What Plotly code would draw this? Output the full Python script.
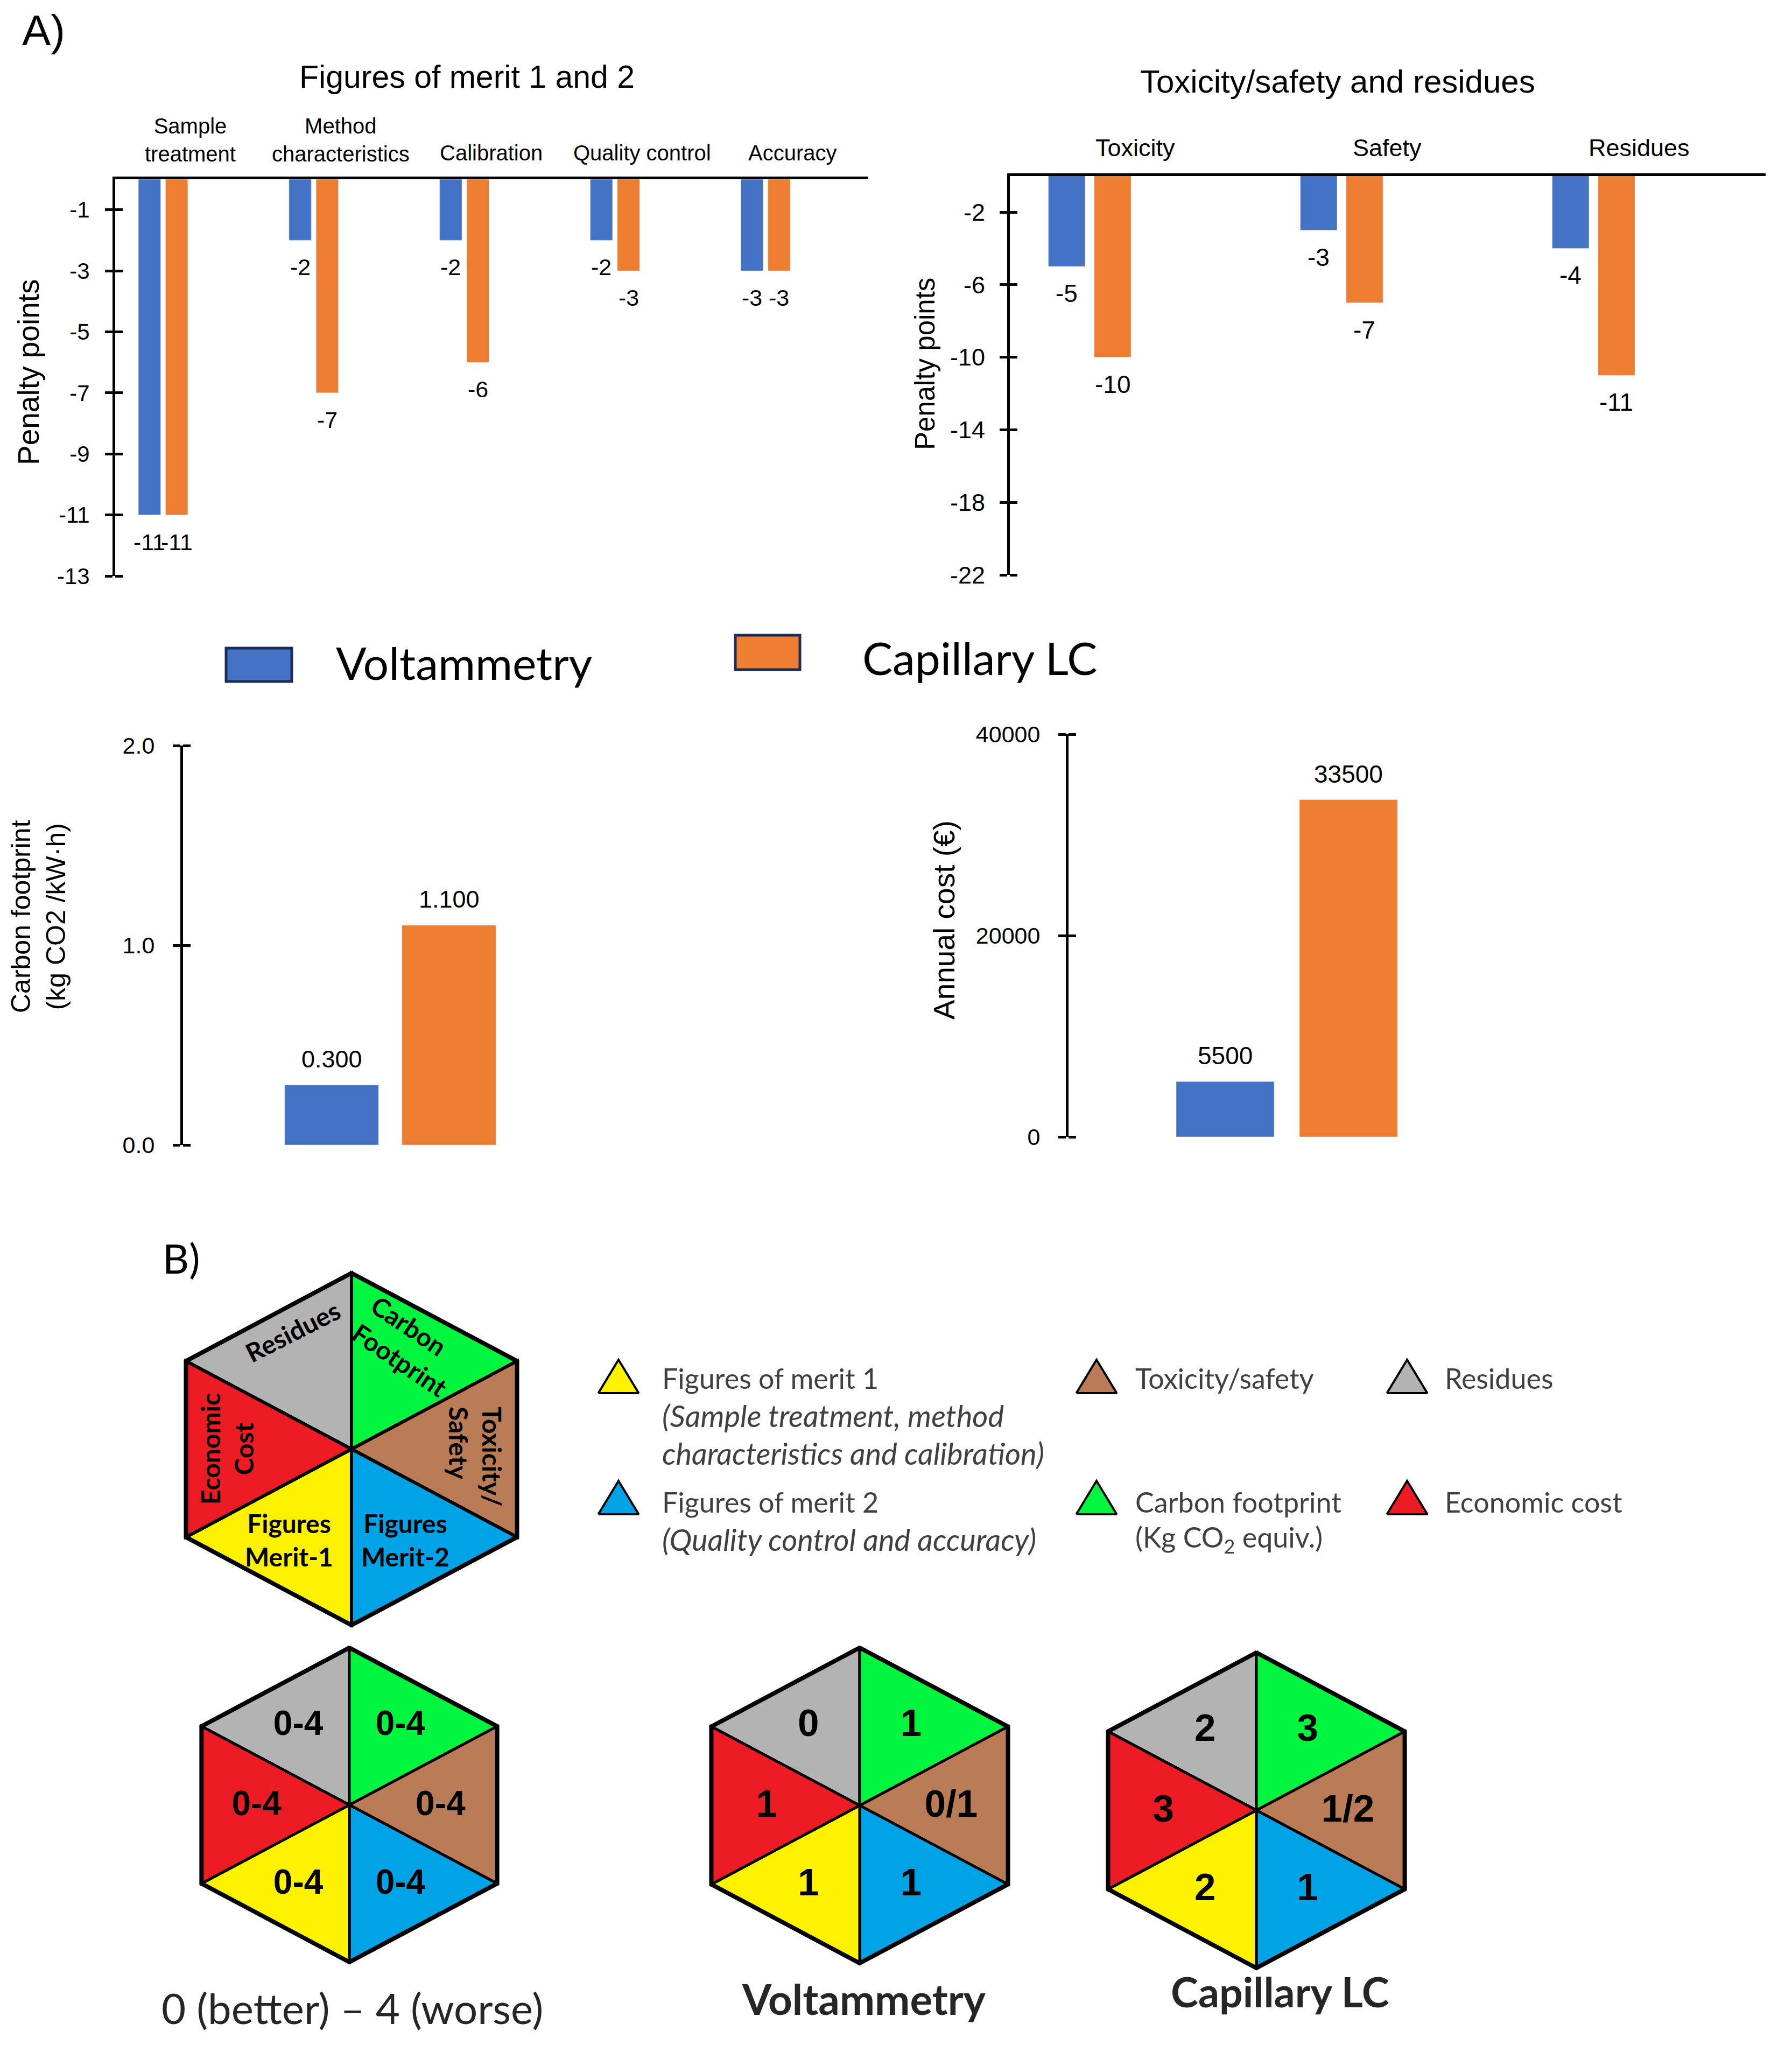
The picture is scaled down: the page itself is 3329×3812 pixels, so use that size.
import plotly.graph_objects as go

W, H = 3329, 3812          # target picture size
SH = 8                     # default page margin of the html body
FW, FH = W - 2 * SH, H - 2 * SH

# ---------------- data ----------------
fom_categories = ["Sample<br>treatment", "Method<br>characteristics", "Calibration", "Quality control", "Accuracy"]
fom_voltammetry = [-11, -2, -2, -2, -3]
fom_capillary = [-11, -7, -6, -3, -3]
fom_ticks = [-1, -3, -5, -7, -9, -11, -13]

tox_categories = ["Toxicity", "Safety", "Residues"]
tox_voltammetry = [-5, -3, -4]
tox_capillary = [-10, -7, -11]
tox_ticks = [-2, -6, -10, -14, -18, -22]

methods = ["Voltammetry", "Capillary LC"]
carbon_footprint = [0.3, 1.1]
carbon_ticks = [0.0, 1.0, 2.0]
annual_cost = [5500, 33500]
cost_ticks = [0, 20000, 40000]

# hexagon sections (clockwise from top-left)
hex_sections = ["Residues", "Carbon footprint", "Toxicity/safety", "Figures of merit 2", "Figures of merit 1", "Economic cost"]
hex_colors = ["#B3B3B3", "#00F53F", "#B97C56", "#00A3E6", "#FFF200", "#ED1C24"]
hex_big_labels = ["Residues", "Carbon<br>Footprint", "Toxicity/<br>Safety", "Figures<br>Merit-2", "Figures<br>Merit-1", "Economic<br>Cost"]
scale_scores = ["0-4", "0-4", "0-4", "0-4", "0-4", "0-4"]
voltammetry_scores = ["0", "1", "0/1", "1", "1", "1"]
capillary_scores = ["2", "3", "1/2", "1", "2", "3"]
hex_captions = ["0 (better) \u2013 4 (worse)", "<b>Voltammetry</b>", "<b>Capillary LC</b>"]

legend_items = [
    ("Figures of merit 1", ["<i>(Sample treatment, method</i>", "<i>characteristics and calibration)</i>"], 4),
    ("Figures of merit 2", ["<i>(Quality control and accuracy)</i>"], 3),
    ("Toxicity/safety", [], 2),
    ("Carbon footprint", ["(Kg CO<sub>2</sub> equiv.)"], 1),
    ("Residues", [], 0),
    ("Economic cost", [], 5),
]

# ---------------- styles ----------------
BLUE = "#4472C4"
ORANGE = "#ED7D31"
AXF = "Liberation Sans, Arial, sans-serif"
CALF = "Lato, Open Sans, sans-serif"


def dom_x(a, b):
    return [(a - SH) / FW, (b - SH) / FW]


def dom_y(top, bottom):
    return [1 - (bottom - SH) / FH, 1 - (top - SH) / FH]


def paper_y(py):
    return 1 - (py - SH) / FH


fig = go.Figure()
annotations = []
shapes = []


def ann(text, x, y, xref="x5", yref="y5", size=40, family=AXF, color="black", **kw):
    d = dict(text=text, x=x, y=y, xref=xref, yref=yref, showarrow=False,
             xanchor="center", yanchor="middle",
             font=dict(size=size, family=family, color=color))
    d.update(kw)
    annotations.append(d)


bar_w = 0.148
off_v = -0.164
off_c = 0.016

# ---- panel 1: figures of merit ----
idx1 = list(range(len(fom_categories)))
fig.add_trace(go.Bar(x=idx1, y=fom_voltammetry, width=bar_w, offset=off_v, marker_color=BLUE,
                     xaxis="x", yaxis="y", showlegend=False))
fig.add_trace(go.Bar(x=idx1, y=fom_capillary, width=bar_w, offset=off_c, marker_color=ORANGE,
                     xaxis="x", yaxis="y", showlegend=False))
for i, (v, c) in enumerate(zip(fom_voltammetry, fom_capillary)):
    ann(str(v), i + off_v + bar_w / 2, v, "x", "y", 43, yshift=-50)
    ann(str(c), i + off_c + bar_w / 2, c, "x", "y", 43, yshift=-50)
for i, cat in enumerate(fom_categories):
    yc = 260 if "<br>" in cat else 284
    ann(cat, i + 0.18, paper_y(yc), "x", "paper", 40)

# ---- panel 2: toxicity ----
idx2 = list(range(len(tox_categories)))
fig.add_trace(go.Bar(x=idx2, y=tox_voltammetry, width=0.146, offset=-0.164, marker_color=BLUE,
                     xaxis="x2", yaxis="y2", showlegend=False))
fig.add_trace(go.Bar(x=idx2, y=tox_capillary, width=0.146, offset=0.018, marker_color=ORANGE,
                     xaxis="x2", yaxis="y2", showlegend=False))
for i, (v, c) in enumerate(zip(tox_voltammetry, tox_capillary)):
    ann(str(v), i - 0.164 + 0.073, v, "x2", "y2", 46, yshift=-50)
    ann(str(c), i + 0.018 + 0.073, c, "x2", "y2", 46, yshift=-50)
for i, cat in enumerate(tox_categories):
    ann(cat, i + 0.18, paper_y(274), "x2", "paper", 45)

# ---- panel 3: carbon footprint ----
idx3 = list(range(len(methods)))
fig.add_trace(go.Bar(x=idx3, y=carbon_footprint, width=0.8, marker_color=[BLUE, ORANGE],
                     xaxis="x3", yaxis="y3", showlegend=False))
for i, v in enumerate(carbon_footprint):
    ann(f"{v:.3f}", i, v, "x3", "y3", 45, yshift=48)

# ---- panel 4: annual cost ----
fig.add_trace(go.Bar(x=idx3, y=annual_cost, width=0.795, marker_color=[BLUE, ORANGE],
                     xaxis="x4", yaxis="y4", showlegend=False))
for i, v in enumerate(annual_cost):
    ann(str(v), i, v, "x4", "y4", 46, yshift=48)

# ---- titles, axis titles, panel letters ----
ann("A)", 81, 56, size=80)
ann("Figures of merit 1 and 2", 867, 143, size=59)
ann("Toxicity/safety and residues", 2485, 151, size=60)
ann("Penalty points", 53, 691, size=55, textangle=-90)
ann("Penalty points", 1718, 676, size=51, textangle=-90)
ann("Carbon footprint<br>(kg CO2 /kW\u00b7h)", 71, 1703, size=50, textangle=-90)
ann("Annual cost (\u20ac)", 1754, 1709, size=55, textangle=-90)
ann("B)", 336, 2336, size=76, family=CALF)

# ---- legend of section A ----
shapes.append(dict(type="rect", xref="x5", yref="y5", x0=420, x1=542, y0=1204, y1=1266,
                   fillcolor=BLUE, line=dict(color="#1C2E57", width=5)))
shapes.append(dict(type="rect", xref="x5", yref="y5", x0=1366, x1=1486, y0=1180, y1=1244,
                   fillcolor=ORANGE, line=dict(color="#1C2E57", width=5)))
ann(methods[0], 622, 1230, size=84, family=CALF, xanchor="left")
ann(methods[1], 1600, 1221, size=84, family=CALF, xanchor="left")

# ---- hexagons ----
K = 1.086


def hex_vertices(cx, cy, r):
    hw = 0.866 * r * K
    return [(cx, cy - r), (cx + hw, cy - 0.5 * r), (cx + hw, cy + 0.5 * r),
            (cx, cy + r), (cx - hw, cy + 0.5 * r), (cx - hw, cy - 0.5 * r)]


tri_pairs = [(5, 0), (0, 1), (1, 2), (2, 3), (3, 4), (4, 5)]


def draw_hex(cx, cy, r, lw_in=4, lw_out=8):
    v = hex_vertices(cx, cy, r)
    for k, (a, b) in enumerate(tri_pairs):
        xs = [cx, v[a][0], v[b][0], cx]
        ys = [cy, v[a][1], v[b][1], cy]
        fig.add_trace(go.Scatter(x=xs, y=ys, fill="toself", fillcolor=hex_colors[k], mode="lines",
                                 line=dict(color="black", width=lw_in), xaxis="x5", yaxis="y5",
                                 showlegend=False, hoverinfo="skip"))
    fig.add_trace(go.Scatter(x=[p[0] for p in v] + [v[0][0]], y=[p[1] for p in v] + [v[0][1]],
                             mode="lines", line=dict(color="black", width=lw_out), xaxis="x5", yaxis="y5",
                             showlegend=False, hoverinfo="skip"))


# big descriptive hexagon
BCX, BCY, BR = 653, 2692, 327
draw_hex(BCX, BCY, BR, 6, 8)
big_pos = [(-110, -219, -27, "center"), (108, -192, 34, "left"), (231, 14, 90, "left"),
           (100, 168, 0, "center"), (-116, 168, 0, "center"), (-232, 0, -90, "center")]
for lab, (dx, dy, ang, al) in zip(hex_big_labels, big_pos):
    ann(f"<b>{lab}</b>", BCX + dx, BCY + dy, size=48, family=CALF, textangle=ang, align=al)

# score hexagons
score_off = [(-0.325, -0.5), (0.325, -0.5), (0.58, 0.01), (0.325, 0.51), (-0.325, 0.51), (-0.59, 0.01)]
small_hex = [(649, 3353, 292, scale_scores, 64), (1597, 3354, 293, voltammetry_scores, 71),
             (2334, 3363, 293, capillary_scores, 71)]
for cx, cy, r, scores, fs in small_hex:
    draw_hex(cx, cy, r, 5, 8)
    fig.add_trace(go.Scatter(x=[cx + ox * r for ox, oy in score_off],
                             y=[cy + oy * r for ox, oy in score_off],
                             text=[f"<b>{s}</b>" for s in scores], mode="text",
                             textfont=dict(size=fs, family=AXF, color="black"),
                             xaxis="x5", yaxis="y5", showlegend=False, hoverinfo="skip"))

cap_pos = [(654, 3730, 78), (1605, 3713, 78), (2378, 3699, 77)]
for txt, (x, y, fs) in zip(hex_captions, cap_pos):
    ann(txt, x, y, size=fs, family=CALF, color="#262626")

# ---- legend of section B ----
leg_cols = [(1149, 1228), (2037, 2107), (2614, 2682)]
tri_rows = [2557, 2782]
txt_rows = [2560, 2790]
for n, (title, sub, ci) in enumerate(legend_items):
    tx, lx = leg_cols[n // 2]
    ty = tri_rows[n % 2]
    tw, th = 75, 62
    fig.add_trace(go.Scatter(x=[tx - tw / 2, tx, tx + tw / 2, tx - tw / 2],
                             y=[ty + th / 2, ty - th / 2, ty + th / 2, ty + th / 2],
                             fill="toself", fillcolor=hex_colors[ci], mode="lines",
                             line=dict(color="black", width=4), xaxis="x5", yaxis="y5",
                             showlegend=False, hoverinfo="skip"))
    yt = txt_rows[n % 2]
    ann(title, lx, yt, size=52, family=CALF, color="#404040", xanchor="left")
    for j, s in enumerate(sub):
        fs = 56 if "<i>" in s else 52
        ann(s, lx, yt + 69 + 70 * j, size=fs, family=CALF, color="#404040", xanchor="left")


# ---------------- layout ----------------
def yax(ticks, size, standoff, **kw):
    span = max(ticks) - min(ticks)
    d = dict(showline=True, linecolor="black", linewidth=5, ticks="outside", ticklen=14,
             tickwidth=5, tickcolor="black", showgrid=False, zeroline=False,
             ticklabelstandoff=standoff, fixedrange=True, automargin=False,
             tickvals=ticks, tickfont=dict(size=size, family=AXF, color="black"),
             # inner half of the crossing tick marks
             minor=dict(tickmode="array", tickvals=[t + span * 1e-6 for t in ticks], ticks="inside",
                        ticklen=14, tickwidth=5, tickcolor="black", showgrid=False))
    d.update(kw)
    return d


xax_top = dict(side="top", showline=True, linecolor="black", linewidth=5, ticks="",
               showticklabels=False, showgrid=False, zeroline=False, fixedrange=True, automargin=False)
xax_hidden = dict(visible=False, fixedrange=True, automargin=False)

fig.update_layout(
    width=FW, height=FH, margin=dict(l=0, r=0, t=0, b=0, autoexpand=False),
    paper_bgcolor="white", plot_bgcolor="rgba(0,0,0,0)",
    barmode="overlay", hovermode=False, showlegend=False,
    xaxis=dict(domain=dom_x(214, 1613), range=[-0.318, 4.682], anchor="y", **xax_top),
    yaxis=dict(domain=dom_y(333, 1070), range=[-13, 0], anchor="x",
               **yax(fom_ticks, 42, 20, ticktext=[str(t) for t in fom_ticks])),
    xaxis2=dict(domain=dom_x(1876, 3280), range=[-0.317, 2.683], anchor="y2", **xax_top),
    yaxis2=dict(domain=dom_y(326.6, 1068), range=[-22, 0], anchor="x2",
                **yax(tox_ticks, 45, 18, ticktext=[str(t) for t in tox_ticks])),
    xaxis3=dict(domain=dom_x(340, 1100), range=[-1.266, 2.22], anchor="y3", **xax_hidden),
    yaxis3=dict(domain=dom_y(1385, 2127), range=[0, 2], anchor="x3",
                **yax(carbon_ticks, 43, 25, tickformat=".1f")),
    xaxis4=dict(domain=dom_x(1985, 2800), range=[-1.271, 2.288], anchor="y4", **xax_hidden),
    yaxis4=dict(domain=dom_y(1364, 2112), range=[0, 40000], anchor="x4",
                **yax(cost_ticks, 43, 25, tickformat="d")),
    xaxis5=dict(domain=[0, 1], range=[SH, SH + FW], anchor="y5", visible=False, fixedrange=True,
                automargin=False),
    yaxis5=dict(domain=[0, 1], range=[SH + FH, SH], anchor="x5", visible=False, fixedrange=True,
                automargin=False),
    annotations=annotations,
    shapes=shapes,
)

fig.write_html("out.html")
